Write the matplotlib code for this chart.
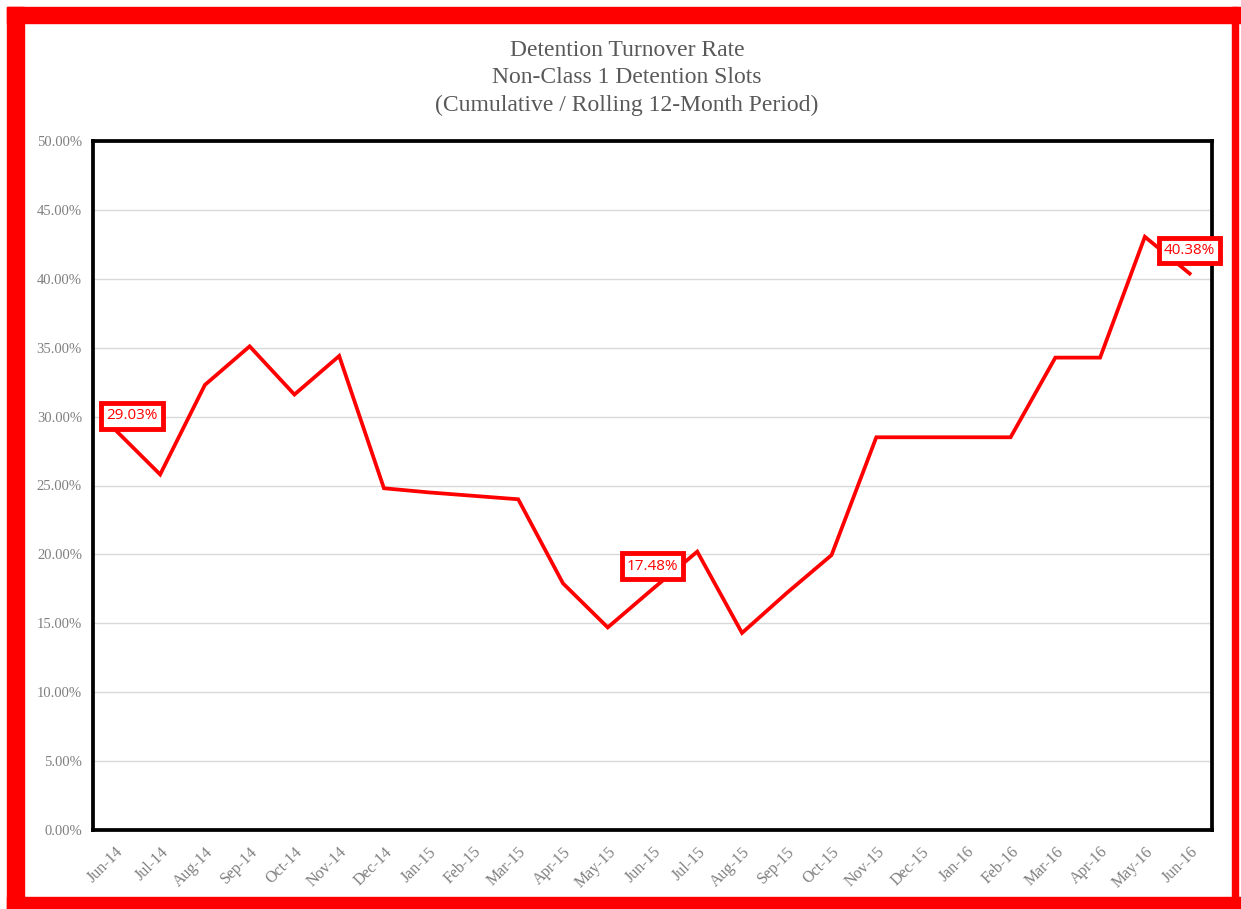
import numpy as np
import matplotlib.pyplot as plt
from matplotlib.patches import Rectangle
from matplotlib.ticker import PercentFormatter

months = ['Jun-14', 'Jul-14', 'Aug-14', 'Sep-14', 'Oct-14', 'Nov-14', 'Dec-14',
          'Jan-15', 'Feb-15', 'Mar-15', 'Apr-15', 'May-15', 'Jun-15', 'Jul-15',
          'Aug-15', 'Sep-15', 'Oct-15', 'Nov-15', 'Dec-15', 'Jan-16', 'Feb-16',
          'Mar-16', 'Apr-16', 'May-16', 'Jun-16']
rate = [29.03, 25.8, 32.3, 35.1, 31.6, 34.4, 24.8,
        24.5, 24.25, 24.0, 17.9, 14.7, 17.48, 20.2,
        14.3, 17.2, 19.95, 28.5, 28.5, 28.5, 28.5,
        34.28, 34.28, 43.05, 40.38]
labelled = [0, 12, 24]
label_offsets = [(17, 14), (0, 23), (0, 23)]

W, H = 1241, 909
fig = plt.figure(figsize=(W / 100, H / 100), dpi=100)

# red frame round the whole picture
def band(x0, y0, x1, y1):
    fig.patches.append(Rectangle((x0 / W, 1 - y1 / H), (x1 - x0) / W, (y1 - y0) / H,
                                 transform=fig.transFigure, color='#ff0000', zorder=0))

band(7, 7, W, 23)
band(7, 7, 24, H)
band(7, 897, W, H)
band(1232, 7, 1238, H)

ax = fig.add_axes([93 / W, 1 - 830 / H, (1212 - 93) / W, (830 - 141) / H])
x = np.arange(len(months))
ax.plot(x, rate, color='#ff0000', lw=2.7, solid_joinstyle='miter', zorder=3)

for i, (dx, dy) in zip(labelled, label_offsets):
    ax.annotate(f'{rate[i]:.2f}%', (x[i], rate[i]), xytext=(dx, dy),
                textcoords='offset pixels', ha='center', va='center',
                color='#ff0000', fontsize=11, family='Open Sans', zorder=5,
                bbox=dict(boxstyle='square,pad=0.34', fc='white', ec='#ff0000', lw=3.5))

ax.set_xlim(-0.5, len(months) - 0.5)
ax.set_ylim(0, 50)
ax.set_yticks(np.arange(0, 51, 5))
ax.yaxis.set_major_formatter(PercentFormatter(decimals=2))
ax.set_xticks(x)
ax.set_xticklabels(months, rotation=45, ha='right', rotation_mode='anchor')
ax.grid(axis='y', color='#d9d9d9', lw=1)
ax.set_axisbelow(True)
ax.tick_params(length=0, labelcolor='#7f7f7f', pad=8)
ax.tick_params(axis='y', labelsize=10.5)
ax.tick_params(axis='x', labelsize=11.5, pad=10)
for lab in ax.get_xticklabels() + ax.get_yticklabels():
    lab.set_family('Liberation Serif')
for s in ax.spines.values():
    s.set_linewidth(2.7)
    s.set_color('black')

fig.text(627 / W, 1 - 78 / H,
         'Detention Turnover Rate\nNon-Class 1 Detention Slots\n(Cumulative / Rolling 12-Month Period)',
         ha='center', va='center', fontsize=17, color='#595959',
         family='Liberation Serif', linespacing=1.38)

fig.savefig('out.png', dpi=100)
